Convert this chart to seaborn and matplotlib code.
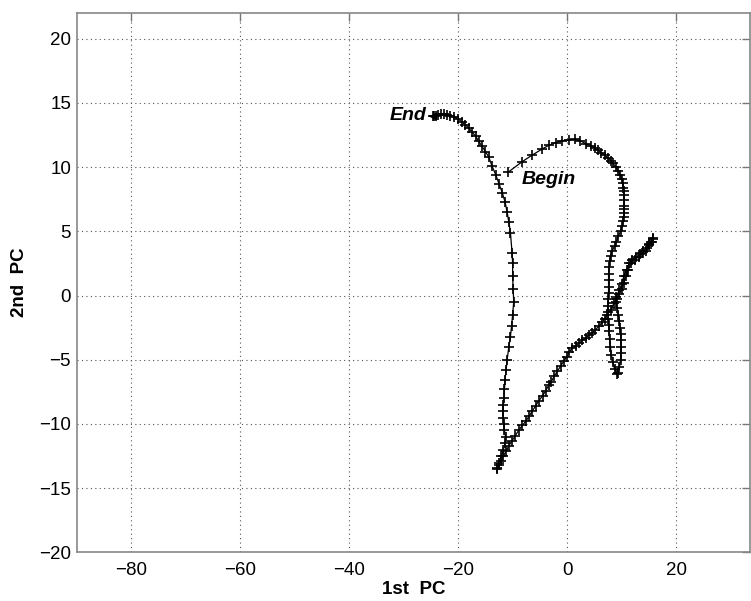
import numpy as np
import pandas as pd
import seaborn as sns
import matplotlib.pyplot as plt

# trajectory in the plane of the first two principal components, in time order
pc1 = [-10.8, -8.3, -6.5, -4.6, -3.3, -2.1, -0.9, 0.3, 1.4, 2.4, 3.5, 4.3, 5.1, 5.7, 6.3, 6.9,
       7.5, 8.0, 8.4, 8.9, 9.4, 9.7, 10.0, 10.2, 10.3, 10.4, 10.4, 10.5, 10.5, 10.45, 10.4, 10.35,
       10.3, 10.1, 9.8, 9.4, 9.05, 8.7, 8.3, 8.0, 7.8,
       7.7, 7.6, 7.6, 7.6, 7.6, 7.55, 7.5, 7.5, 7.55, 7.6, 7.65, 7.8, 7.95, 8.1, 8.4, 8.7, 9.1,
       9.4, 9.6, 9.8, 9.9, 9.9, 9.85, 9.8, 9.7, 9.6, 9.4, 9.2, 9.0, 8.9,
       9.6, 10.0, 10.4, 10.9, 11.4, 11.9, 12.6, 13.4, 14.0, 14.6, 15.0, 15.4, 15.7, 15.8,
       15.5, 15.1, 14.5, 13.8, 13.1, 12.4, 11.8, 11.2, 10.8, 10.4, 10.0, 9.6, 9.1, 8.6, 8.0,
       7.4, 6.9, 6.4, 5.8, 5.1, 4.6, 4.0, 3.4, 2.8, 2.2, 1.6, 0.9, 0.4, -0.1, -0.6, -1.2,
       -1.8, -2.4, -2.9, -3.4, -3.9, -4.5, -5.2, -5.8, -6.4, -7.0, -7.6, -8.2, -8.9, -9.5,
       -10.1, -10.7, -11.2, -11.7, -12.1, -12.5, -12.8, -12.9,
       -12.5, -12.1, -11.7, -11.4, -11.3, -11.5, -11.6, -11.7, -11.8, -11.7, -11.6, -11.5,
       -11.4, -11.2, -11.0, -10.7, -10.4, -10.2, -10.0, -9.8, -9.9, -10.0, -10.0, -10.1,
       -10.4, -10.7, -11.0, -11.4, -11.9, -12.5, -13.1, -13.8, -14.4, -15.0, -15.6, -16.2,
       -16.8, -17.4, -18.0, -18.7, -19.3, -20.0, -20.7, -21.4, -22.0, -22.6, -23.1, -23.6,
       -24.0, -24.4, -24.7]
pc2 = [9.6, 10.4, 10.9, 11.4, 11.7, 11.9, 12.05, 12.1, 12.15, 12.05, 11.8, 11.65, 11.5, 11.3,
       11.1, 10.9, 10.7, 10.5, 10.3, 10.0, 9.7, 9.4, 9.1, 8.75, 8.4, 8.1, 7.8, 7.4, 7.0, 6.7,
       6.4, 6.1, 5.8, 5.4, 5.0, 4.6, 4.2, 3.85, 3.5, 3.1, 2.7,
       2.2, 1.7, 1.2, 0.7, 0.2, -0.3, -0.8, -1.3, -1.8, -2.3, -2.8, -3.4, -4.0, -4.6, -5.2, -5.7,
       -6.1,
       -6.0, -5.6, -5.0, -4.5, -4.0, -3.5, -3.0, -2.5, -2.0, -1.5, -1.0, -0.5, -0.1,
       0.4, 0.9, 1.5, 2.0, 2.5, 2.8, 3.0, 3.2, 3.5, 3.7, 4.0, 4.2, 4.4, 4.5,
       4.2, 3.9, 3.5, 3.3, 3.0, 2.8, 2.5, 2.0, 1.5, 1.0, 0.5, 0.1, -0.3, -0.6, -1.1,
       -1.5, -1.8, -2.1, -2.4, -2.7, -2.9, -3.1, -3.3, -3.5, -3.7, -3.9, -4.1, -4.4, -4.8, -5.1,
       -5.5, -5.9, -6.3, -6.7, -7.0, -7.4, -7.8, -8.2, -8.6, -9.0, -9.4, -9.8, -10.1, -10.5,
       -10.9, -11.3, -11.7, -12.1, -12.5, -12.9, -13.2, -13.4, -13.5,
       -13.0, -12.5, -12.0, -11.5, -11.0, -10.5, -10.0, -9.5, -9.0, -8.5, -8.0, -7.3,
       -6.6, -5.8, -5.0, -4.0, -3.2, -2.4, -1.5, -0.5, 0.5, 1.5, 2.5, 3.3,
       4.9, 5.7, 6.5, 7.3, 8.0, 8.7, 9.4, 10.1, 10.8, 11.2, 11.6, 12.0,
       12.4, 12.7, 13.0, 13.3, 13.5, 13.75, 13.9, 14.0, 14.05, 14.1, 14.1, 14.05,
       14.0, 14.0, 14.0]

xticks = [-80, -60, -40, -20, 0, 20]
yticks = [-20, -15, -10, -5, 0, 5, 10, 15, 20]

df = pd.DataFrame({'t': np.arange(len(pc1)), 'pc1': pc1, 'pc2': pc2})

sns.set_style('white')
plt.rcParams['font.family'] = ['Liberation Sans', 'DejaVu Sans']
plt.rcParams['text.color'] = 'black'
plt.rcParams['axes.labelcolor'] = 'black'

fig = plt.figure(figsize=(7.51, 6.01), dpi=100)
ax = fig.add_axes([0.102, 0.0807, 0.897, 0.898])

sns.lineplot(data=df, x='pc1', y='pc2', sort=False, estimator=None, ax=ax,
             color='black', lw=0.9, marker='+', markersize=7, mew=1.2, mec='black')
# arrow head at the last sample
ax.plot(df['pc1'].iloc[-1], df['pc2'].iloc[-1], marker='<', color='black', markersize=5)

ax.text(-25.9, 14.0, 'End', ha='right', va='center', fontsize=14,
        fontweight='bold', fontstyle='italic')
ax.text(-8.4, 9.0, 'Begin', ha='left', va='center', fontsize=14,
        fontweight='bold', fontstyle='italic')

ax.set_xlim(-90, 33.6)
ax.set_ylim(-20, 22)
ax.set_xticks(xticks)
ax.set_yticks(yticks)
ax.grid(True, color='#555555', linestyle=(0, (1, 3)), lw=0.8)
ax.tick_params(direction='in', length=6, width=1, color='#777777', labelcolor='black',
               labelsize=13.5, top=True, right=True)
ax.tick_params(axis='x', pad=7)
ax.tick_params(axis='y', pad=4)
for s in ax.spines.values():
    s.set_color('#888888')
    s.set_linewidth(1.2)

ax.set_xlabel('1st  PC', fontsize=13.5, fontweight='bold', labelpad=1)
ax.set_ylabel('2nd  PC', fontsize=13.5, fontweight='bold', labelpad=8)

fig.savefig('out.png', dpi=100)
